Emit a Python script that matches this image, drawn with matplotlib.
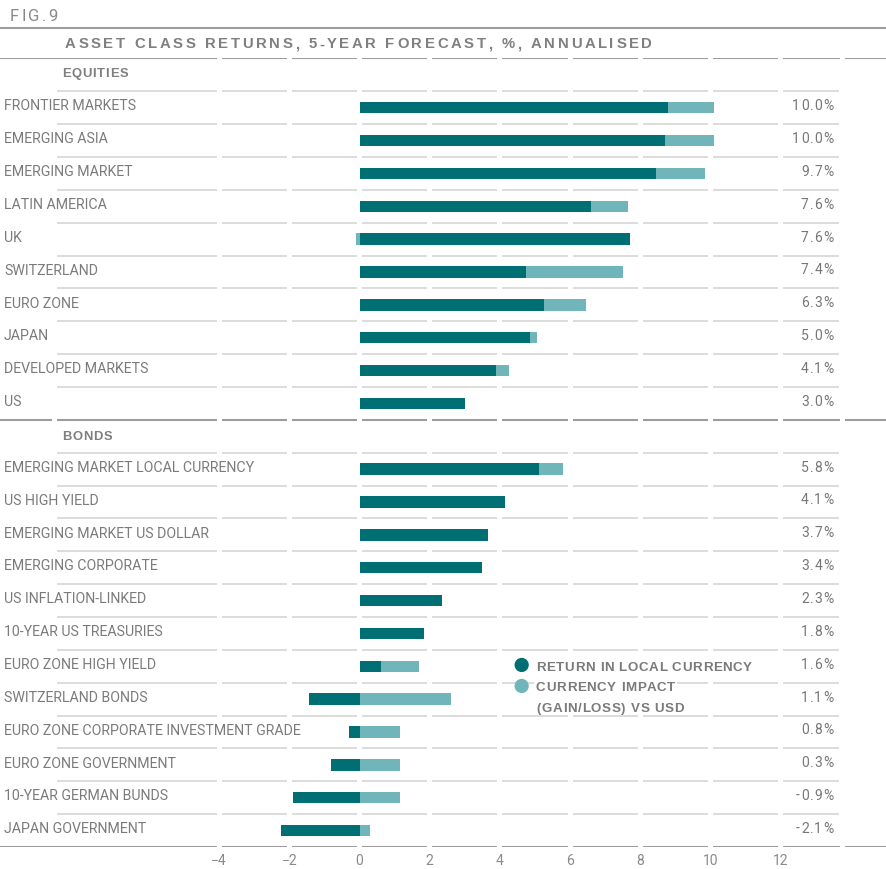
import matplotlib
matplotlib.use("Agg")
import matplotlib.pyplot as plt
from matplotlib.font_manager import FontProperties, findfont
from matplotlib.ft2font import FT2Font
from matplotlib.transforms import IdentityTransform
from matplotlib.lines import Line2D
from matplotlib.patches import Rectangle
import numpy as np

W, H, DPI = 886, 870, 100
DARK = "#006f73"
LIGHT = "#6fb5b9"
GREY = "#7b7b7b"
GRID = "#d5d5d5"
RULE = "#9d9d9d"

plt.rcParams["font.family"] = ["Roboto", "DejaVu Sans"]

# data
equity_labels = ["FRONTIER MARKETS", "EMERGING ASIA", "EMERGING MARKET", "LATIN AMERICA", "UK",
                 "SWITZERLAND", "EURO ZONE", "JAPAN", "DEVELOPED MARKETS", "US"]
equity_local = [8.8, 8.7, 8.45, 6.6, 7.7, 4.75, 5.25, 4.85, 3.9, 3.0]
equity_fx = [1.3, 1.4, 1.4, 1.05, -0.1, 2.75, 1.2, 0.2, 0.35, 0.0]
equity_total = [10.0, 10.0, 9.7, 7.6, 7.6, 7.4, 6.3, 5.0, 4.1, 3.0]

bond_labels = ["EMERGING MARKET LOCAL CURRENCY", "US HIGH YIELD", "EMERGING MARKET US DOLLAR",
               "EMERGING CORPORATE", "US INFLATION-LINKED", "10-YEAR US TREASURIES",
               "EURO ZONE HIGH YIELD", "SWITZERLAND BONDS", "EURO ZONE CORPORATE INVESTMENT GRADE",
               "EURO ZONE GOVERNMENT", "10-YEAR GERMAN BUNDS", "JAPAN GOVERNMENT"]
bond_local = [5.1, 4.15, 3.65, 3.5, 2.35, 1.85, 0.6, -1.45, -0.3, -0.8, -1.9, -2.25]
bond_fx = [0.7, 0.0, 0.0, 0.0, 0.0, 0.0, 1.1, 2.6, 1.15, 1.15, 1.15, 0.3]
bond_total = [5.8, 4.1, 3.7, 3.4, 2.3, 1.8, 1.6, 1.1, 0.8, 0.3, -0.9, -2.1]

tick_values = [-4, -2, 0, 2, 4, 6, 8, 10, 12]
legend_labels = ["RETURN IN LOCAL CURRENCY", "CURRENCY IMPACT", "(GAIN/LOSS) VS USD"]


def spaced(x, y, s, size, track=0.0, width=None, family="Roboto", weight="normal",
           color=GREY, ha="left", bg=False):
    # letter-spaced text, x/y in image pixels (y = centre of capitals, from top)
    prop = FontProperties(family=family, weight=weight, size=size)
    font = FT2Font(findfont(prop))
    font.set_size(size, DPI)
    adv = [font.load_char(ord(c)).linearHoriAdvance / 65536 for c in s]
    if width is not None:
        track = (width - sum(adv)) / (len(s) - 1)
    total = sum(adv) + track * (len(s) - 1)
    if ha == "right":
        x -= total
    cap = 0.715 * size * DPI / 72
    base = H - y - cap / 2
    if bg:
        fig.add_artist(Rectangle((x - 2, base - 4), total + 4, cap + 8, transform=IdentityTransform(),
                                 facecolor="white", edgecolor="none", zorder=1))
    for c, a in zip(s, adv):
        fig.text(x, base, c, fontproperties=prop, color=color, va="baseline", ha="left",
                 transform=IdentityTransform(), zorder=3)
        x += a + track


fig = plt.figure(figsize=(W / DPI, H / DPI), dpi=DPI)
top_px, bot_px = 59.4, 848
ax = fig.add_axes([0, (H - bot_px) / H, 1, (bot_px - top_px) / H])
x0, x1 = -359.5 / 35.1, (W - 359.5) / 35.1
ax.set_xlim(x0, x1)
ax.set_ylim(23.5, -0.5)

eq_rows = np.arange(1, 11)
bond_rows = np.arange(12, 24)
rows = np.concatenate([eq_rows, bond_rows])
local = np.array(equity_local + bond_local)
fx = np.array(equity_fx + bond_fx)
totals = equity_total + bond_total
labels = equity_labels + bond_labels
fx_left = np.where(fx >= 0, np.maximum(local, 0), np.minimum(local, 0))

ax.barh(rows, local, height=0.35, color=DARK, zorder=3)
ax.barh(rows, fx, left=fx_left, height=0.35, color=LIGHT, zorder=3)

# broken horizontal rules, gaps at every tick
gaps = tick_values + [13.75]
half = 0.07


def ruled(y, start, end, color, lw, extra=()):
    cuts = sorted(g for g in list(gaps) + list(extra) if start < g < end)
    starts = [start] + [g + half for g in cuts]
    ends = [g - half for g in cuts] + [end]
    ax.hlines([y] * len(starts), starts, ends, color=color, lw=lw, zorder=1)


for b in range(25):
    yb = b - 0.5
    if b in (0, 24):
        ruled(yb, x0, x1, RULE, 1.5)
    elif b == 11:
        ruled(yb, x0, x1, RULE, 1.5, extra=[-8.68])
    else:
        ruled(yb, -8.62, 13.66, GRID, 1.2)

fig.add_artist(Line2D([0, W], [H - 29, H - 29], transform=IdentityTransform(), color=RULE, lw=1.5))

for r, lab in zip(rows, labels):
    ax.text(x0 + 4 / 35.1, r - 0.07, lab, ha="left", va="center", fontsize=10.15, color=GREY)

fig.canvas.draw()
for r, v in zip(rows, totals):
    px = H - ax.transData.transform((0, r))[1]
    spaced(833, px - 3.5, f"{v:.1f}%", 10, 0.9, color="#777777", ha="right")

ax.set_xticks(tick_values)
ax.tick_params(axis="x", length=0, pad=4, labelsize=10, labelcolor="#8a8a8a")
ax.set_yticks([])
for s in ax.spines.values():
    s.set_visible(False)

# legend
ax.scatter([4.62, 4.62], [(666 - top_px) / 32.86 - 0.5, (687 - top_px) / 32.86 - 0.5],
           s=105, color=[DARK, LIGHT], zorder=5, linewidths=0)
bold = dict(family="Liberation Sans", weight="bold", color="#7a7a7a", bg=True)
spaced(536, 666, legend_labels[0], 9.6, width=216, **bold)
spaced(536, 686.5, legend_labels[1], 9.6, width=139, **bold)
spaced(536, 707, legend_labels[2], 9.6, width=148, **bold)

# headings
spaced(10, 15, "FIG.9", 12.0, width=48, color="#8a8a8a")
head = dict(family="Liberation Sans", weight="bold", color="#7f7f7f")
spaced(65, 43, "ASSET CLASS RETURNS, 5-YEAR FORECAST, %, ANNUALISED", 10.7, width=587, **head)
spaced(62, 72, "EQUITIES", 9.4, width=66, **head)
spaced(62, 435, "BONDS", 9.4, width=50, **head)

fig.savefig("out.png", dpi=DPI)
